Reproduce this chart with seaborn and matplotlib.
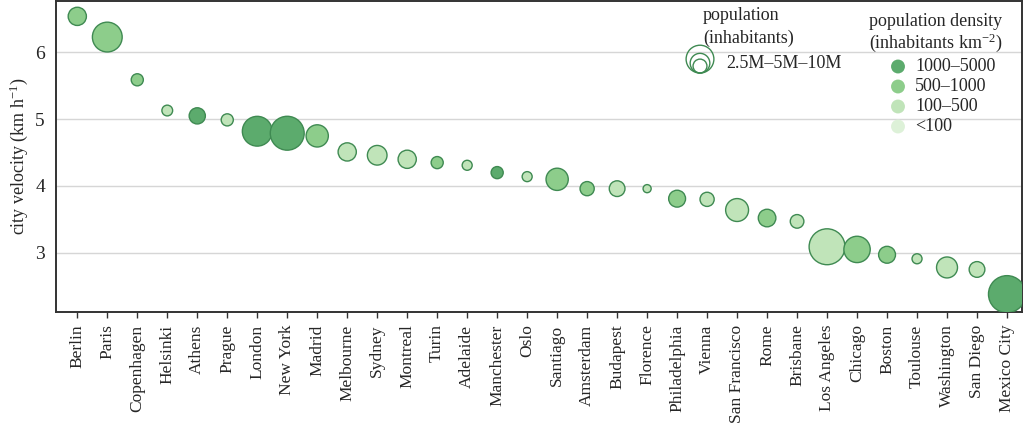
import matplotlib

matplotlib.use("Agg")
import matplotlib.pyplot as plt
import matplotlib.transforms as mtransforms
import numpy as np
import pandas as pd
import seaborn as sns

cities = ["Berlin", "Paris", "Copenhagen", "Helsinki", "Athens", "Prague", "London",
          "New York", "Madrid", "Melbourne", "Sydney", "Montreal", "Turin", "Adelaide",
          "Manchester", "Oslo", "Santiago", "Amsterdam", "Budapest", "Florence",
          "Philadelphia", "Vienna", "San Francisco", "Rome", "Brisbane", "Los Angeles",
          "Chicago", "Boston", "Toulouse", "Washington", "San Diego", "Mexico City"]
velocity = [6.54, 6.23, 5.59, 5.13, 5.05, 4.99, 4.82, 4.79, 4.75, 4.51, 4.46, 4.40,
            4.35, 4.31, 4.20, 4.14, 4.10, 3.96, 3.96, 3.96, 3.81, 3.80, 3.64, 3.52,
            3.47, 3.09, 3.05, 2.97, 2.91, 2.78, 2.75, 2.38]
# population in millions
population = [4.3, 11.5, 1.9, 1.5, 3.4, 1.9, 11.5, 14.9, 6.4, 4.3, 5.0, 4.3, 1.9, 1.3,
              1.9, 1.3, 6.4, 2.6, 3.2, 0.85, 3.7, 2.6, 6.8, 4.0, 2.4, 16.7, 9.0, 3.7,
              1.3, 5.7, 3.2, 17.8]
density = ["500–1000", "500–1000", "500–1000", "100–500", "1000–5000", "100–500",
           "1000–5000", "1000–5000", "500–1000", "100–500", "100–500", "100–500",
           "500–1000", "100–500", "1000–5000", "100–500", "500–1000", "500–1000",
           "100–500", "100–500", "500–1000", "100–500", "100–500", "500–1000",
           "100–500", "100–500", "500–1000", "500–1000", "100–500", "100–500",
           "100–500", "1000–5000"]

density_levels = ["1000–5000", "500–1000", "100–500", "<100"]
density_colors = ["#5cab6d", "#8dcd8b", "#c0e4b9", "#ddf1d8"]
legend_pops = [2.5, 5, 10]

df = pd.DataFrame({"city": cities, "velocity": velocity,
                   "population": population, "density": density})
df["x"] = np.arange(len(df))

sns.set_style("white")
plt.rcParams["font.family"] = ["Liberation Serif", "DejaVu Serif"]
plt.rcParams["mathtext.fontset"] = "custom"
plt.rcParams["mathtext.rm"] = "Liberation Serif"
plt.rcParams["mathtext.default"] = "regular"

FS = 13
fig = plt.figure(figsize=(10.24, 4.26), dpi=100)
ax = fig.add_axes([56 / 1024, 114 / 426, 966 / 1024, 311 / 426])

S_MAX = 400  # marker area (pt^2) for 10M inhabitants
palette = dict(zip(density_levels, density_colors))
# area proportional to population (norm wide enough that nothing gets clipped)
sns.scatterplot(data=df, x="x", y="velocity", hue="density", palette=palette,
                size="population", sizes=(0, 2 * S_MAX), size_norm=(0, 20),
                edgecolor="#3f8a52", linewidth=1.0, legend=False, ax=ax, zorder=3)

ax.set_xlim(-0.71, len(df) - 0.5)
ax.set_ylim(2.113, 6.77)
ax.set_yticks([3, 4, 5, 6])
ax.set_xticks(df["x"])
ax.set_xticklabels(df["city"], rotation=90, fontsize=12.5)
ax.tick_params(axis="y", length=0, pad=8, labelsize=FS + 1)
ax.tick_params(axis="x", length=4, width=1, pad=5, bottom=True, color="#333333")
ax.grid(axis="y", color="#d6d6d6", linewidth=1, zorder=0)
ax.set_axisbelow(True)
ax.set_xlabel("")
ax.set_ylabel("city velocity (km h$^{-1}$)", fontsize=FS)
for sp in ax.spines.values():
    sp.set_color("#333333")
    sp.set_linewidth(1.4)


def fx(px):
    return px / 1024


def fy(py):
    return 1 - py / 426


# population size legend
fig.text(fx(703), fy(16), "population", fontsize=FS, va="center", ha="left")
fig.text(fx(703), fy(38), "(inhabitants)", fontsize=FS, va="center", ha="left")
for p in legend_pops[::-1]:
    s = S_MAX * p / 10
    r_pt = np.sqrt(s) / 2
    tr = mtransforms.offset_copy(fig.transFigure, fig=fig, y=r_pt, units="points")
    ax.scatter([fx(700)], [fy(73)], s=s, facecolor="none", edgecolor="#3f8a52",
               linewidth=1.0, transform=tr, clip_on=False, zorder=5)
fig.text(fx(726), fy(63), "2.5M–5M–10M", fontsize=FS, va="center", ha="left")

# population density legend
fig.text(fx(936), fy(22), "population density", fontsize=FS, va="center", ha="center")
fig.text(fx(936), fy(43), "(inhabitants km$^{-2}$)", fontsize=FS, va="center",
         ha="center")
for i, (lab, col) in enumerate(zip(density_levels, density_colors)):
    yy = 66.5 + 20 * i
    ax.scatter([fx(898)], [fy(yy)], s=100, color=col, edgecolor="none",
               transform=fig.transFigure, clip_on=False, zorder=5)
    fig.text(fx(915), fy(yy), lab, fontsize=FS, va="center", ha="left")

plt.savefig("out.png", dpi=100)
plt.close()
